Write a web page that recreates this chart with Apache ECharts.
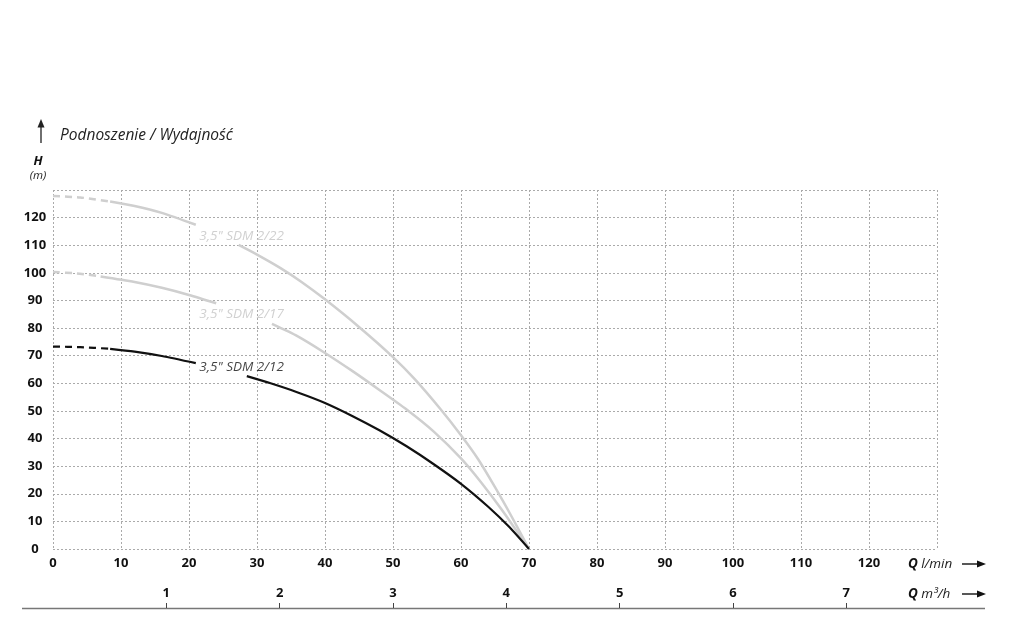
<!DOCTYPE html>
<html>
<head>
<meta charset="utf-8">
<script src="https://cdn.jsdelivr.net/npm/echarts@6/dist/echarts.min.js"></script>
<style>
html,body{margin:0;padding:0;background:#fff;}
#chart{width:1019px;height:640px;}
</style>
</head>
<body>
<div id="chart"></div>
<script>
// ---- data (Q in l/min, H in m) ----
const curveNames = ['3,5" SDM 2/22', '3,5" SDM 2/17', '3,5" SDM 2/12'];
const curve22 = [[0,127.8],[4,127.3],[8.4,125.8],[12,124.2],[16,121.7],[21,117.4],[27.3,110.1],[30,106.6],[33.4,101.8],[36.5,96.8],[40,90.4],[45,80.4],[50,69.5],[53.2,61.5],[57,50.6],[60,41.2],[62.5,32.6],[65,22.4],[67.5,11.5],[70,0]];
const curve17 = [[0,100.3],[3.5,99.8],[7,98.7],[12,96.7],[16,94.6],[20,92],[24,89],[32.2,81.5],[36,77],[40,71],[44,64.5],[48,57.6],[52,50.5],[56,42.5],[60,32.8],[63,24],[66,14.2],[70,0]];
const curve12 = [[0,73.3],[4,73.1],[8.4,72.5],[12,71.5],[16,69.9],[21,67.3],[28.5,62.6],[32,60],[36,56.7],[40,52.9],[44,48.2],[48,43],[52,37.2],[56,30.7],[60,23.6],[64,15.3],[67,8.2],[70,0]];
// Q where dashed part ends, where label gap starts and ends
const breaks22 = [8.4, 21, 27.3];
const breaks17 = [7, 24, 32.2];
const breaks12 = [8.4, 21, 28.5];
// label anchor points (Q, H)
const labelPos = [[21.5,113.4],[21.5,85.1],[21.5,65.9]];
const curveColors = ['#cfcfcf', '#cfcfcf', '#111111'];
const labelColors = ['#c4c4c4', '#c4c4c4', '#111111'];
const curveWidths = [2.5, 2.5, 2.2];

const qTicksLmin = [0,10,20,30,40,50,60,70,80,90,100,110,120];
const hTicks = [0,10,20,30,40,50,60,70,80,90,100,110,120];
const qTicksM3h = [1,2,3,4,5,6,7];
const LMIN_PER_M3H = 1000/60;

// ---- build series ----
function seg(data, lo, hi){ return data.filter(p => p[0] >= lo - 1e-9 && p[0] <= hi + 1e-9); }
const curves = [curve22, curve17, curve12];
const brks = [breaks22, breaks17, breaks12];
const series = [];
curves.forEach((c, i) => {
  const b = brks[i];
  const parts = [
    {data: seg(c, 0, b[0]), type: [7,5]},
    {data: seg(c, b[0], b[1]), type: 'solid'},
    {data: seg(c, b[2], 1000), type: 'solid'}
  ];
  parts.forEach(p => {
    series.push({
      type: 'line', xAxisIndex: 0, yAxisIndex: 0,
      data: p.data, smooth: 0.25, symbol: 'none', silent: true,
      lineStyle: {color: curveColors[i], width: curveWidths[i], type: p.type}
    });
  });
  series.push({
    type: 'scatter', xAxisIndex: 0, yAxisIndex: 0, symbolSize: 0.1, silent: true,
    data: [labelPos[i]],
    label: {show: true, position: 'right', distance: 0, formatter: curveNames[i],
      color: labelColors[i], fontStyle: 'italic', fontSize: 13.5, fontFamily: 'Open Sans',
      align: 'left', verticalAlign: 'middle'}
  });
});

const boldLab = {color: '#111', fontWeight: 'bold', fontSize: 13, fontFamily: 'Open Sans'};

const option = {
  animation: false,
  backgroundColor: '#fff',
  grid: {left: 53, right: 82, top: 190, bottom: 91, containLabel: false},
  xAxis: [{
    type: 'value', min: 0, max: 130, interval: 10,
    axisLine: {show: false}, axisTick: {show: false},
    splitLine: {show: true, lineStyle: {color: '#aaaaaa', type: [2,2], width: 1}},
    axisLabel: Object.assign({margin: 8, customValues: qTicksLmin, formatter: v => String(v)}, boldLab)
  }, {
    type: 'value', position: 'bottom', offset: 59,
    min: 0, max: 130 / LMIN_PER_M3H,
    axisLine: {show: false},
    splitLine: {show: false},
    axisTick: {show: true, inside: true, length: 5, customValues: qTicksM3h, lineStyle: {color: '#444', width: 1}},
    axisLabel: Object.assign({inside: true, margin: 8, customValues: qTicksM3h, formatter: v => String(v)}, boldLab)
  }],
  yAxis: [{
    type: 'value', min: 0, max: 130, interval: 10,
    axisLine: {show: false}, axisTick: {show: false},
    splitLine: {show: true, lineStyle: {color: '#aaaaaa', type: [2,2], width: 1}},
    axisLabel: Object.assign({margin: 18, align: 'center', customValues: hTicks, formatter: v => String(v)}, boldLab)
  }],
  graphic: [
    {type: 'line', shape: {x1: 41, y1: 143, x2: 41, y2: 126}, style: {stroke: '#222', lineWidth: 1.3}},
    {type: 'polygon', shape: {points: [[37.5,127.5],[44.5,127.5],[41,119]]}, style: {fill: '#222'}},
    {type: 'text', x: 60, y: 136, style: {text: 'Podnoszenie / Wydajność', fill: '#222', font: 'italic 15.5px "Open Sans"', textVerticalAlign: 'middle', textAlign: 'left'}},
    {type: 'text', x: 38, y: 161, style: {text: 'H', fill: '#111', font: 'italic bold 13px "Open Sans"', textVerticalAlign: 'middle', textAlign: 'center'}},
    {type: 'text', x: 38, y: 176, style: {text: '(m)', fill: '#222', font: 'italic 11.5px "Open Sans"', textVerticalAlign: 'middle', textAlign: 'center'}},
    {type: 'text', x: 908, y: 564, style: {
      text: '{b|Q} {i|l/min}', textVerticalAlign: 'middle', textAlign: 'left',
      rich: {b: {fontWeight: 'bold', fontStyle: 'italic', fontSize: 13.5, fontFamily: 'Open Sans', fill: '#111'},
             i: {fontStyle: 'italic', fontSize: 13.5, fontFamily: 'Open Sans', fill: '#222'}}}},
    {type: 'line', shape: {x1: 962, y1: 564, x2: 980, y2: 564}, style: {stroke: '#111', lineWidth: 1.4}},
    {type: 'polygon', shape: {points: [[977,560.5],[977,567.5],[986,564]]}, style: {fill: '#111'}},
    {type: 'text', x: 908, y: 594, style: {
      text: '{b|Q} {i|m³/h}', textVerticalAlign: 'middle', textAlign: 'left',
      rich: {b: {fontWeight: 'bold', fontStyle: 'italic', fontSize: 13.5, fontFamily: 'Open Sans', fill: '#111'},
             i: {fontStyle: 'italic', fontSize: 13.5, fontFamily: 'Open Sans', fill: '#222'}}}},
    {type: 'line', shape: {x1: 962, y1: 594, x2: 980, y2: 594}, style: {stroke: '#111', lineWidth: 1.4}},
    {type: 'polygon', shape: {points: [[977,590.5],[977,597.5],[986,594]]}, style: {fill: '#111'}},
    {type: 'line', shape: {x1: 22, y1: 608.5, x2: 985, y2: 608.5}, style: {stroke: '#777', lineWidth: 1.5}}
  ],
  series: series
};

const chart = echarts.init(document.getElementById('chart'), null, {renderer: 'canvas'});
chart.setOption(option);
</script>
</body>
</html>
